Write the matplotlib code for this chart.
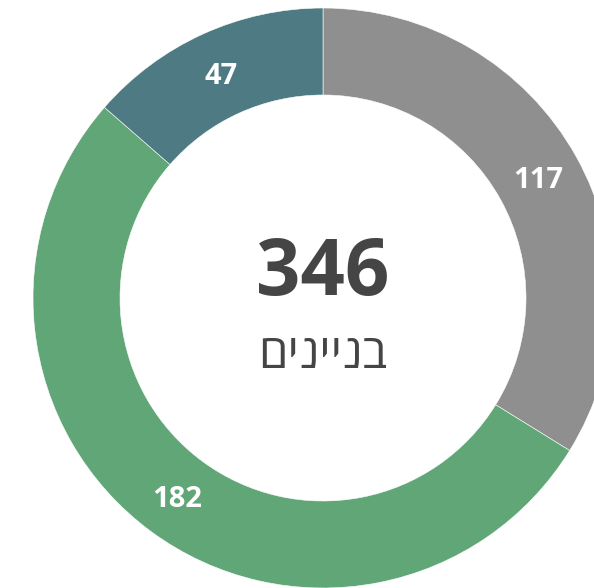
import numpy as np
import matplotlib.pyplot as plt

# data
values = [117, 182, 47]
colors = ['#8f8f8f', '#60a677', '#4e7a83']
total = sum(values)
center_label = 'בניינים'

plt.rcParams['font.family'] = ['Open Sans', 'DejaVu Sans']

fig = plt.figure(figsize=(5.94, 5.88), dpi=100)
ax = fig.add_axes([0, 0, 1, 1])

# pixel-like coordinates, chart is clipped on right and bottom
cx, cy = 323, 588 - 298
R = 290
wedges, texts = ax.pie(values, colors=colors, startangle=90, counterclock=False,
                       center=(cx, cy), radius=R, labels=[str(v) for v in values],
                       labeldistance=0.85,
                       wedgeprops=dict(width=87, edgecolor='white', linewidth=0.4),
                       textprops=dict(color='white', fontsize=21, fontweight='bold',
                                      ha='center', va='center'))
for t in texts:
    t.set_horizontalalignment('center')
    t.set_verticalalignment('center')
    x, y = t.get_position()
    t.set_position((x, y - 3))  # nudge down a bit, like the original

ax.text(cx, 588 - 275, str(total), ha='center', va='center', fontsize=56,
        fontweight='bold', color='#454545')
# matplotlib draws left to right, so reverse the Hebrew string
ax.text(cx, 588 - 355, center_label[::-1], ha='center', va='center', fontsize=34,
        color='#454545')

ax.set_xlim(0, 594)
ax.set_ylim(0, 588)
ax.set_aspect('equal')
ax.axis('off')

fig.savefig('out.png', dpi=100)
